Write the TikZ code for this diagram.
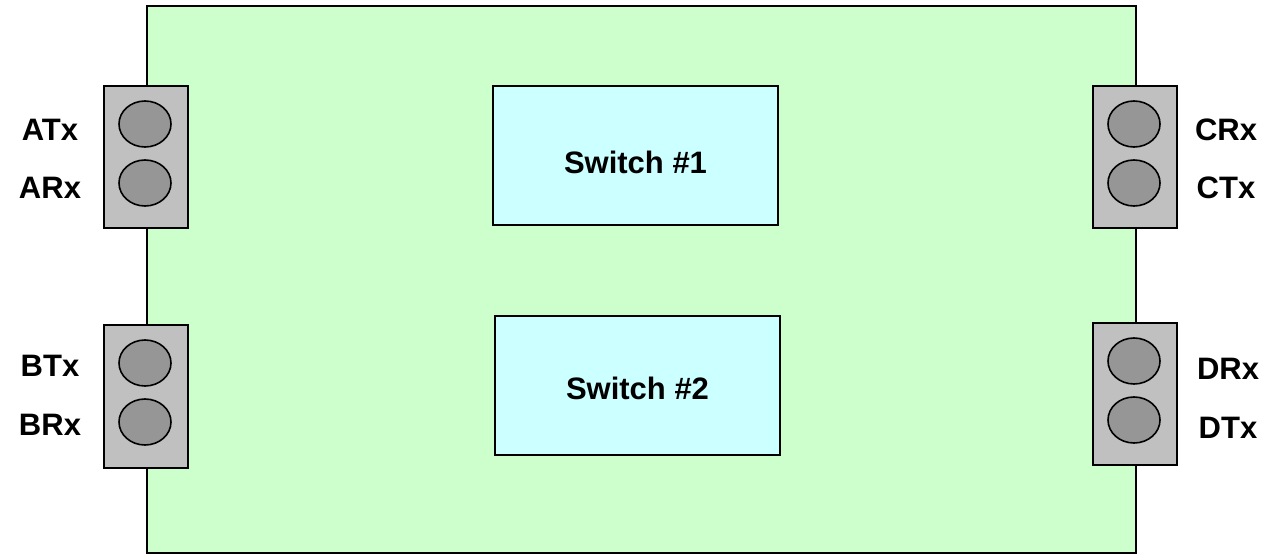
\documentclass[tikz,border=0pt]{standalone}
\usepackage{fontspec}
\setmainfont{Liberation Sans}
\usepackage{xcolor}
\usepackage{tikz}
\usetikzlibrary{positioning}
\definecolor{boardgreen}{HTML}{CCFFCC}
\definecolor{switchcyan}{HTML}{CCFFFF}
\definecolor{portgray}{HTML}{C0C0C0}
\definecolor{lensgray}{HTML}{969696}
\tikzset{
  board/.style={draw=black,fill=boardgreen,line width=1pt},
  portbox/.style={draw=black,fill=portgray,line width=1pt},
  lens/.style={draw=black,fill=lensgray,line width=0.8pt},
  switchbox/.style={draw=black,fill=switchcyan,line width=0.8pt},
  portlabel/.style={font=\fontsize{15.5}{18}\selectfont\bfseries},
}
\begin{document}
\begin{tikzpicture}[x=0.5pt,y=-0.5pt,line join=miter]
  \useasboundingbox (0,0) rectangle (1275,557);
  % board
  \draw[board] (147,6) rectangle (1136,553);
  % switches
  \draw[switchbox] (493,86) rectangle (778,225);
  \node[portlabel] (sw1) at (635.5,162) {Switch \#1};
  \draw[switchbox] (495,316) rectangle (780,455);
  \node[portlabel] (sw2) at (637.5,388) {Switch \#2};
  % port A
  \draw[portbox] (104,86) rectangle (188,228);
  \draw[lens] (145,124) ellipse (26 and 23);
  \draw[lens] (145,183) ellipse (26 and 23);
  \node[portlabel] (atx) at (50,130) {ATx};
  \node[portlabel] (arx) at (50,188) {ARx};
  % port B
  \draw[portbox] (104,325) rectangle (188,468);
  \draw[lens] (145,363) ellipse (26 and 23);
  \draw[lens] (145,422) ellipse (26 and 23);
  \node[portlabel] (btx) at (50,366) {BTx};
  \node[portlabel] (brx) at (50,425) {BRx};
  % port C
  \draw[portbox] (1093,86) rectangle (1177,228);
  \draw[lens] (1134,124) ellipse (26 and 23);
  \draw[lens] (1134,183) ellipse (26 and 23);
  \node[portlabel] (crx) at (1226,130) {CRx};
  \node[portlabel] (ctx) at (1226,188) {CTx};
  % port D
  \draw[portbox] (1093,323) rectangle (1177,465);
  \draw[lens] (1134,361) ellipse (26 and 23);
  \draw[lens] (1134,420) ellipse (26 and 23);
  \node[portlabel] (drx) at (1228,369) {DRx};
  \node[portlabel] (dtx) at (1228,428) {DTx};
\end{tikzpicture}
\end{document}
